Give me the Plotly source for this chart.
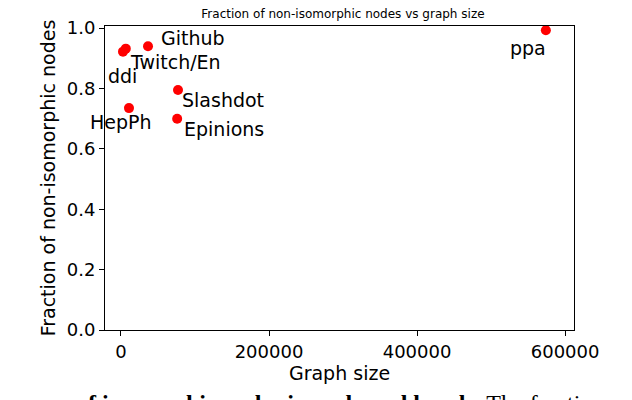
import plotly.graph_objects as go

names = ["ppa", "Github", "ddi", "Twitch/En", "Slashdot", "Epinions", "HepPh"]
sizes = [574000, 36500, 2700, 6500, 77000, 75900, 10800]
fractions = [0.993, 0.94, 0.922, 0.932, 0.795, 0.700, 0.735]
# label offsets in pixels (dx, dy)
offsets = [(-18, 18), (45, -8), (0, 24), (50, 13), (45, 10), (47, 10), (-8, 14)]

fig = go.Figure(go.Scatter(
    x=sizes, y=fractions, mode="markers",
    marker=dict(color="red", size=10), showlegend=False,
))

for n, x, y, (dx, dy) in zip(names, sizes, fractions, offsets):
    fig.add_annotation(x=x, y=y, text=n, showarrow=False, xshift=dx, yshift=-dy,
                       font=dict(size=19, color="black"))

fig.add_annotation(x=0.5, y=0, xref="paper", yref="paper", yshift=-88, showarrow=False,
                   text="<b>of isomorphic nodes in node and bonds.</b> The fraction",
                   font=dict(family="Liberation Serif", size=24, color="black"))

axis = dict(showgrid=False, zeroline=False, showline=True, mirror=True, linecolor="black",
            ticks="outside", tickcolor="black", ticklen=5, automargin=False,
            tickfont=dict(size=18, color="black"))
fig.update_layout(
    width=632, height=400,
    margin=dict(l=97, r=66, t=18, b=78),
    paper_bgcolor="white", plot_bgcolor="white",
    font=dict(family="DejaVu Sans", color="black"),
    title=dict(text="Fraction of non-isomorphic nodes vs graph size", x=0.53, xanchor="center",
               y=0.995, yanchor="top", automargin=False, font=dict(size=12)),
    xaxis=dict(axis, range=[-21600, 612000], tickvals=[0, 200000, 400000, 600000],
               ticktext=["0", "200000", "400000", "600000"],
               title=dict(text="Graph size", font=dict(size=19), standoff=2)),
    yaxis=dict(axis, range=[0, 1.007], tickvals=[0, 0.2, 0.4, 0.6, 0.8, 1.0],
               ticktext=["0.0", "0.2", "0.4", "0.6", "0.8", "1.0"],
               title=dict(text="Fraction of non-isomorphic nodes", font=dict(size=19), standoff=6)),
)

fig.write_html("out.html")
